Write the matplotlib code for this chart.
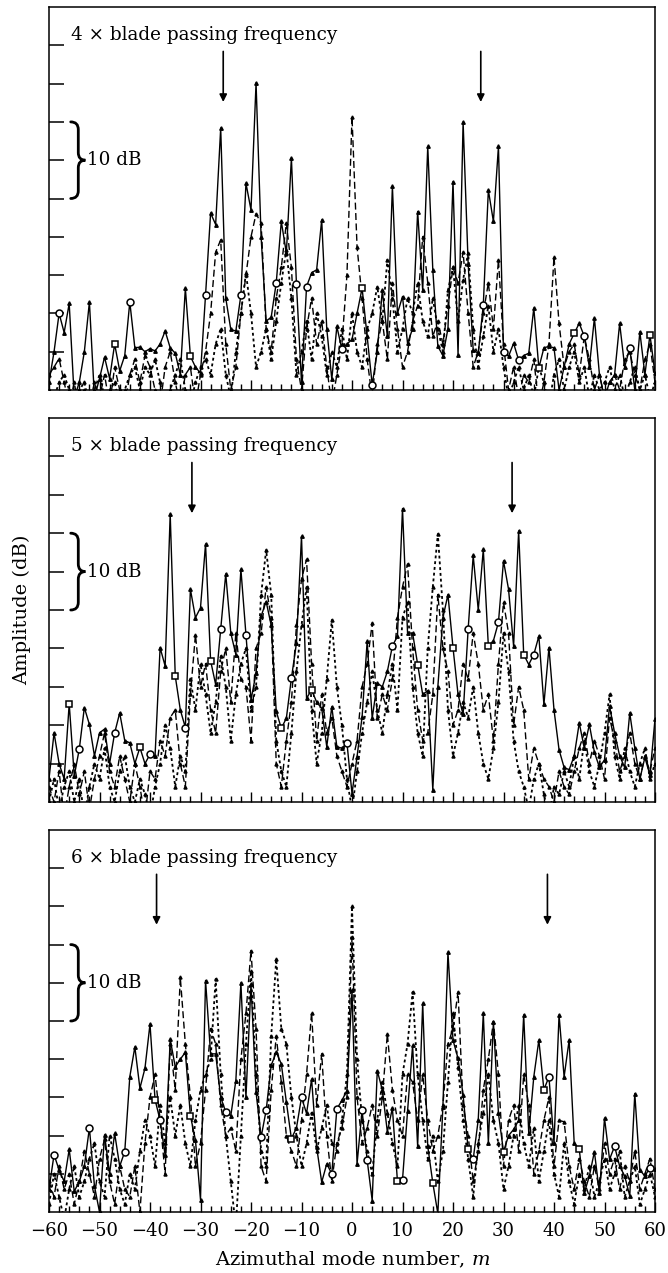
import numpy as np
import matplotlib
matplotlib.use("Agg")
import matplotlib.pyplot as plt
from matplotlib.path import Path
from matplotlib.patches import PathPatch

plt.rcParams['font.family'] = ['DejaVu Serif']
plt.rcParams['mathtext.fontset'] = 'dejavuserif'

# ---------------- data ----------------
m = np.arange(-60, 61)

harmonics = [4, 5, 6]
arrow_m = [25.5, 31.7, 38.7]

p1_solid = [1, 5, 10, 7.5, 11.3, -1, 1, 5, 11.5, -1,
            1.5, 4.3, 1.5, 6, 2.5, 4.5, 11.5, 5.5, 5.6, 5,
            5.4, 5.1, 6, 7.7, 5.5, 4.8, 2, 13.3, 4.4, 3,
            2.2, 12.4, 23.1, 21.6, 34.2, 12, 7.9, 7.7, 12.4, 27,
            23.5, 40.1, 20, 9, 9.5, 14, 22, 17.9, 30.3, 13.8,
            1, 13.5, 15.3, 15.7, 22.2, 8, 1.4, 8.3, 5.3, 6,
            6.6, 10, 13.3, 7, 0.7, 5, 13, 7, 26.6, 10,
            12.2, 6.1, 8, 23.3, 13, 31.8, 15.7, 5.7, 4.5, 8,
            27.2, 4.6, 35, 16.5, 5.2, 4.8, 11.1, 26.1, 22, 31.8,
            5, 4.4, 6.1, 3.9, 4.5, 4.8, 10.7, 2.9, 5.5, 5.7,
            5.5, 0, 3, 6, 7.4, 8.7, 7, 3, 9.4, 2,
            -1, 1, 2, 8.7, 3, 5.5, 0, 7.6, 2, 7.2, 2.2]
p1_dash = [2, 3, 4.1, 1, -2, 1, -3, 0, -2, 1,
           -1, 2, -2, 3, 0, -2, 2, 4, 1, 4.5,
           3, 0, -2, 3, 5, 1, -2, 2, 3, -2,
           2, 5, 10, 18, 19.6, 6, 0, 3, 10, 15,
           20, 23, 21.8, 8, 5, 12, 16, 21.8, 16, 4,
           0, 8, 12, 6, 9, 3, -2, 2, 6, 15,
           35.7, 18.7, 12, 4, -1, 6, 9, 4, 14, 8,
           3, 5, 9, 11, 20, 14, 7, 9, 6, 11,
           16, 14, 18, 10, 3, 5, 10, 14, 8, 17,
           6, 0, 3, -1, 2, 1, 4, -2, 1, 6,
           17.4, 8.7, 3, 5, 6, 2, 7, 4, 0, 2,
           -1, 1, 2, 0, 4, 5, 2, 0, 4, 6, 1]
p1_dot = [0, -1, 1, 2, 0, -2, 0, 1, -2, 0,
          2, -1, 0, 1, -2, 0, 2, 3, 0, 3,
          2, 4, 1, -2, 0, 2, 4, 0, -2, 1,
          3, 4, 2, 6, 8, 2, -1, 5, 10, 15.3,
          10, 3, 5, 8, 4, 9, 14, 18.3, 12, 2,
          5, 9, 4, 10, 7, 2, 5, 3, 8, 4,
          10, 5, 3, 8, 10, 13.5, 9, 17, 12, 5,
          8, 12, 10, 14, 9, 7, 12, 8, 5, 13,
          16, 9, 14.4, 17.9, 8, 3, 7, 11, 5, 8,
          3, -1, 1, 3, 0, 2, -1, 3, 1, -2,
          2, 4, 0, 3, 5, 1, 3, -1, 2, 0,
          1, 3, 0, 2, -1, 1, 3, 0, 2, -1, 1]

p2_solid = [3, 9, 5, 3, 12.8, 3.4, 6.9, 12.3, 10.1, 6,
            9, 9.5, 5, 9, 11.6, 8, 7.7, 5, 7.1, 5,
            6.2, 6, 20.1, 17.7, 37.5, 16.4, 12, 9.7, 27.7, 24,
            25.3, 33.6, 18.4, 15.3, 22.5, 29.7, 22, 19.2, 30.3, 21.8,
            13.3, 16.8, 24.2, 26.1, 23, 11.8, 9.6, 10.9, 16.1, 20.7,
            34.6, 13.5, 14.6, 13, 12.2, 7.2, 12.4, 7.2, 7, 7.7,
            1.1, 5.9, 11.1, 20.9, 10.9, 15.5, 15, 17, 20.3, 21.6,
            38.2, 22, 22, 17.9, 14, 14.5, 1.6, 15, 24, 27,
            20.1, 14, 11.4, 22.5, 32.1, 25, 32.9, 20.3, 21, 23.4,
            31.4, 27.7, 20.3, 35.3, 19.2, 17.9, 19.2, 21.6, 12.7, 20.1,
            12, 6.8, 4.5, 4.2, 6, 10.3, 7, 10.1, 6.5, 4.5,
            5.5, 12.5, 9, 6, 4.5, 11.6, 7, 3, 5.8, 3.5, 10.8]
p2_dash = [2, 0, 4, -2, 2, 5, 1, 4, -1, 3,
           6, 9, 4, 2, 6, 3, 0, 5, 2, -2,
           4, 3, 8, 6, 11, 12, 5, 2, 14, 21.8,
           15, 18, 12, 9, 17, 20, 13, 22, 16, 15,
           8, 20, 22, 28, 24, 5, 2, 8, 13, 23,
           29, 31.6, 18, 8, 14, 9, 11, 6, 4, 2,
           5, 8, 15, 18, 23.3, 11, 14, 12, 16, 24,
           28, 31, 20, 12, 8, 9, 14, 27, 20, 17,
           10, 12, 18, 16, 22, 18, 12, 14, 8, 18,
           26, 22, 10, 15, 12, 3, 7, 5, 3, 2,
           0, 4, 2, 1, 4, 7, 9, 5, 8, 6,
           3, 11, 8, 4, 6, 9, 5, 3, 6, 4, 7]
p2_dot = [0, 3, -1, 2, 4, 0, 3, -2, 2, 5,
          3, 7, 2, 0, 4, 6, 2, 0, 3, 1,
          -2, 2, 5, 10, 7, 2, 6, 4, 16, 12,
          18, 14, 9, 13, 19, 15, 8, 14, 18, 20,
          12, 15, 27, 32.8, 27, 8, 4, 2, 9, 17,
          23, 28, 12, 5, 9, 16, 23.7, 15, 10, 3,
          -1, 4, 9, 13, 17, 12, 9, 14, 18, 12,
          24, 26, 15, 9, 6, 20, 28, 34.9, 25, 12,
          6, 9, 13, 11, 15, 9, 5, 3, 7, 13,
          22, 17, 8, 4, 2, -1, 3, 5, 1, -2,
          2, 1, 4, 2, 6, 3, 8, 4, 2, 5,
          9, 14, 6, 3, 7, 4, 2, 5, 7, 3, 5]

p3_solid = [3, 7.5, 5.5, 4, 8.2, 2.7, 4, 6, 11, 3.4,
            0, 10.1, 5, 10.3, 6, 7.9, 17.7, 21.6, 16.2, 18.8,
            24.6, 14.7, 12, 7.4, 22.6, 19, 20, 20.9, 12.6, 9.4,
            1.6, 30.3, 20.7, 20.7, 15, 13.1, 12.6, 17.2, 30, 15,
            29.8, 15.7, 9.8, 13.3, 19.2, 20.9, 19.4, 14.4, 9.6, 11,
            15, 12.9, 17.4, 8.5, 3.9, 6.3, 5, 13.5, 14.6, 15.9,
            29, 6.3, 13.3, 6.8, 1.5, 18.5, 16, 10.5, 13.6, 4,
            4.2, 13.2, 21.8, 8.6, 27.3, 8.6, 3.8, -0.2, 13.8, 34,
            22.5, 20.1, 15.3, 8.2, 6.9, 12.1, 26, 9, 24.9, 12.9,
            7.9, 10, 10.8, 12, 25.8, 10.3, 17.7, 22.5, 16, 17.7,
            9, 25.8, 17.7, 22.5, 9, 8.2, 2.5, 4.7, 7.9, 2.5,
            12.3, 6.9, 8.6, 6, 4.7, 2.1, 15.5, 5.5, 4.7, 5.8, 5.6]
p3_dash = [4, 2, 6, 3, 5, 1, 4, 8, 5, 2,
           7, 9.5, 4, 1, 6, 3, 2, 6, 0, 9,
           15, 18, 12, 5, 22, 16, 30.7, 22, 15, 6,
           9, 16, 24, 22, 14, 10, 11, 8, 20, 26,
           34.2, 24, 6, 4, 16, 23, 17, 10, 8, 6,
           12, 18, 26.1, 14, 20.7, 10, 4, 9, 11, 15,
           36, 15, 9, 11, 14, 10, 15, 23.3, 16, 12,
           10, 18, 17, 12, 18, 12, 8, 10, 14, 22,
           24, 28.8, 14, 10, 4, 8, 16, 20, 24.9, 18,
           6, 12, 14, 8, 18, 14, 5, 8, 12, 15,
           6, 12, 11.8, 6, 3, 7, 4, 2, 6, 3,
           9, 5, 7, 3, 6, 4, 8, 3, 5, 7, 3]
p3_dot = [1, 5, 2, -1, 3, 6, 2, 4, 7, 9,
          4, 2, 10, 7, 3, 1, 5, 3, 8, 12,
          10, 6, 14, 9, 15, 10, 14, 9, 6, 12,
          16, 18, 20, 30.5, 18, 10, 4, -2, 10, 22,
          31.5, 18, 8, 6, 23, 33.1, 24, 22, 15, 10,
          6, 9, 13, 8, 11, 14, 9, 8, 12, 18,
          40, 20, 12, 8, 5, 12, 17, 13, 9, 6,
          18, 22, 28.8, 18, 12, 7, 10, 4, 8, 17,
          26, 19, 12, 7, 2, 9, 13, 18, 12, 9,
          3, 6, 10, 14, 9, 6, 11, 4, 8, 12,
          5, 2, 9, 4, 1, 5, 3, 6, 2, 4,
          7, 3, 5, 8, 2, 4, 6, 1, 3, 5, 2]

# open-symbol positions (m) on the solid curves
p1_circles = [-58, -44, -29, -22, -15, -11, -9, -2, 4, 26, 30, 33, 46, 55]
p1_squares = [-47, -32, 2, 37, 44, 59]
p2_circles = [-54, -47, -40, -33, -26, -21, -12, -1, 8, 23, 29, 36]
p2_squares = [-56, -42, -35, -28, -14, -8, 13, 20, 27, 34]
p3_circles = [-59, -52, -45, -38, -25, -18, -17, -10, -4, -3, 2, 3, 10, 24, 39, 52, 59]
p3_squares = [-39, -32, -12, 9, 16, 23, 30, 38, 45]

panels = [
    (p1_solid, p1_dash, p1_dot, p1_circles, p1_squares),
    (p2_solid, p2_dash, p2_dot, p2_circles, p2_squares),
    (p3_solid, p3_dash, p3_dot, p3_circles, p3_squares),
]

# ---------------- figure ----------------
W, H = 668, 1273
fig = plt.figure(figsize=(W / 100, H / 100), dpi=100)
rects = [(7, 390), (418, 802), (830, 1212)]
left_px, right_px = 49, 655

FS = 13.2

def brace(ax, x_end, x_mid, x_tip, y_top, y_bot):
    y_mid = 0.5 * (y_top + y_bot)
    r = 1.0
    verts = [(x_end, y_top), (x_mid, y_top), (x_mid, y_top - r),
             (x_mid, y_mid + r), (x_mid, y_mid), (x_tip, y_mid),
             (x_mid, y_mid), (x_mid, y_mid - r),
             (x_mid, y_bot + r), (x_mid, y_bot), (x_end, y_bot)]
    codes = [Path.MOVETO, Path.CURVE3, Path.CURVE3,
             Path.LINETO, Path.CURVE3, Path.CURVE3,
             Path.CURVE3, Path.CURVE3,
             Path.LINETO, Path.CURVE3, Path.CURVE3]
    ax.add_patch(PathPatch(Path(verts, codes), fill=False, lw=2.0,
                           color='black', capstyle='round', clip_on=False))

axes = []
for i, ((top, bot), (s, d, t, circ, sq)) in enumerate(zip(rects, panels)):
    ax = fig.add_axes([left_px / W, 1 - bot / H, (right_px - left_px) / W, (bot - top) / H])
    axes.append(ax)
    s = np.array(s, float); d = np.array(d, float); t = np.array(t, float)
    assert len(s) == len(m) and len(d) == len(m) and len(t) == len(m)

    ax.plot(m, t, color='black', lw=1.3, ls=(0, (1.6, 1.6)),
            marker='^', ms=2.2, mfc='black', mec='black')
    ax.plot(m, d, color='black', lw=1.0, ls=(0, (5, 2.5)),
            marker='^', ms=2.2, mfc='black', mec='black')
    ax.plot(m, s, color='black', lw=1.0, ls='-',
            marker='^', ms=2.5, mfc='black', mec='black')
    ci = [int(np.where(m == c)[0][0]) for c in circ]
    si = [int(np.where(m == c)[0][0]) for c in sq]
    ax.plot(m[ci], s[ci], ls='none', marker='o', ms=5, mfc='white', mec='black', mew=1.1)
    ax.plot(m[si], s[si], ls='none', marker='s', ms=4.5, mfc='white', mec='black', mew=1.1)

    ax.set_xlim(-60, 60)
    ax.set_ylim(0, 50)
    ax.set_xticks(np.arange(-60, 61, 10))
    ax.set_xticks(np.arange(-60, 61, 2), minor=True)
    ax.set_yticks(np.arange(5, 50, 5))
    ax.set_yticklabels([])
    ax.tick_params(axis='y', direction='in', length=11, width=1.1, left=True, right=False)
    ax.tick_params(axis='x', which='major', direction='in', length=7, width=1.0, top=False)
    ax.tick_params(axis='x', which='minor', direction='in', length=4.5, width=1.0, top=False)
    if i < 2:
        ax.set_xticklabels([])
    else:
        ax.tick_params(axis='x', which='major', labelsize=13, pad=7)
    for sp in ax.spines.values():
        sp.set_linewidth(1.1)

    ax.text(-55.6, 46.3, f"{harmonics[i]} \u00d7 blade passing frequency",
            fontsize=FS, ha='left', va='center')
    brace(ax, -55.7, -54.2, -52.8, 35, 25)
    ax.text(-52.4, 30, "10 dB", fontsize=FS, ha='left', va='center')

    for sgn in (-1, 1):
        ax.annotate('', xy=(sgn * arrow_m[i], 37.6), xytext=(sgn * arrow_m[i], 44.2),
                    arrowprops=dict(arrowstyle='-|>', color='black', lw=1.2,
                                    mutation_scale=11, shrinkA=0, shrinkB=0))

fig.text(22 / W, 1 - 610 / H, "Amplitude (dB)", rotation=90, fontsize=14,
         ha='center', va='center')
fig.text(353 / W, 1 - 1260 / H, "Azimuthal mode number, $m$", fontsize=14,
         ha='center', va='center')

fig.savefig("out.png", dpi=100)
